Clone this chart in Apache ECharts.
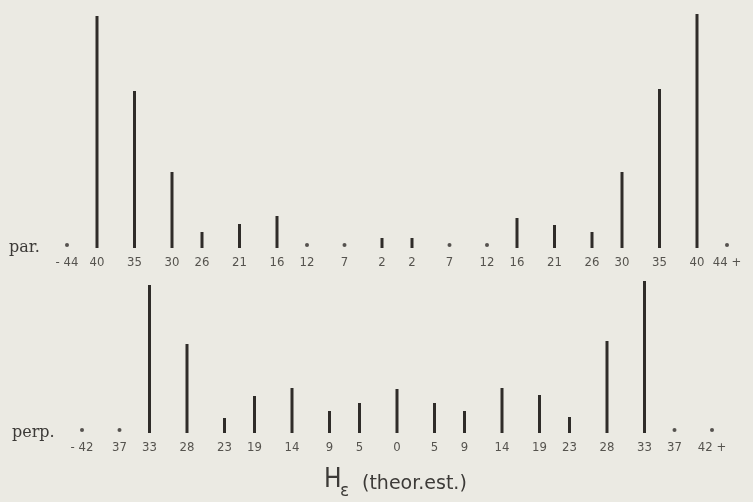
<!DOCTYPE html>
<html>
<head>
<meta charset="utf-8">
<script src="https://cdn.jsdelivr.net/npm/echarts@6/dist/echarts.min.js"></script>
<style>
html,body{margin:0;padding:0;background:#ebeae3;}
#chart{width:753px;height:502px;}
</style>
</head>
<body>
<div id="chart"></div>
<script>
// Angles (signed) and intensities
var parAngles = [-44,-40,-35,-30,-26,-21,-16,-12,-7,-2,2,7,12,16,21,26,30,35,40,44];
var parValues = [0,232,157,76,16,24,32,0,0,10,10,0,0,30,23,16,76,159,234,0];
var perpAngles = [-42,-37,-33,-28,-23,-19,-14,-9,-5,0,5,9,14,19,23,28,33,37,42];
var perpValues = [0,0,148,89,15,37,45,22,30,44,30,22,45,38,16,92,152,0,0];
var parTickLabels = ['- 44','40','35','30','26','21','16','12','7','2','2','7','12','16','21','26','30','35','40','44 +'];
var perpTickLabels = ['- 42','37','33','28','23','19','14','9','5','0','5','9','14','19','23','28','33','37','42 +'];

var barColor = '#2f2c29';
var labelColor = '#55534e';
var textColor = '#3c3a37';

function bars(angles, values) {
  var out = [];
  for (var i = 0; i < angles.length; i++) if (values[i] > 0) out.push([angles[i], values[i]]);
  return out;
}
function dots(angles, values) {
  var out = [];
  for (var i = 0; i < angles.length; i++) if (values[i] === 0) out.push([angles[i], 3]);
  return out;
}
function xAxis(gridIndex, angles, labels) {
  return {
    type: 'value', gridIndex: gridIndex, min: -46, max: 46,
    axisLine: {show: false}, axisTick: {show: false}, splitLine: {show: false},
    axisLabel: {
      customValues: angles, margin: 8, color: labelColor, fontSize: 13,
      fontFamily: 'DejaVu Sans Condensed, DejaVu Sans, sans-serif',
      formatter: function (v) { var i = angles.indexOf(v); return i >= 0 ? labels[i] : ''; }
    }
  };
}
function yAxis(gridIndex, max) {
  return {type: 'value', gridIndex: gridIndex, min: 0, max: max, show: false};
}

var chart = echarts.init(document.getElementById('chart'));
chart.setOption({
  backgroundColor: '#ebeae3',
  animation: false,
  grid: [
    {left: 52, width: 690, top: 8, height: 240},
    {left: 52, width: 690, top: 273, height: 160}
  ],
  xAxis: [xAxis(0, parAngles, parTickLabels), xAxis(1, perpAngles, perpTickLabels)],
  yAxis: [yAxis(0, 240), yAxis(1, 160)],
  series: [
    {type: 'bar', xAxisIndex: 0, yAxisIndex: 0, barWidth: 3, data: bars(parAngles, parValues), itemStyle: {color: barColor}},
    {type: 'scatter', xAxisIndex: 0, yAxisIndex: 0, symbolSize: 4, data: dots(parAngles, parValues), itemStyle: {color: barColor}},
    {type: 'bar', xAxisIndex: 1, yAxisIndex: 1, barWidth: 3, data: bars(perpAngles, perpValues), itemStyle: {color: barColor}},
    {type: 'scatter', xAxisIndex: 1, yAxisIndex: 1, symbolSize: 4, data: dots(perpAngles, perpValues), itemStyle: {color: barColor}}
  ],
  graphic: [
    {type: 'text', left: 9, top: 240, style: {text: 'par.', fontSize: 16, fontFamily: 'DejaVu Serif, serif', fill: textColor}},
    {type: 'text', left: 12, top: 425, style: {text: 'perp.', fontSize: 16, fontFamily: 'DejaVu Serif, serif', fill: textColor}},
    {type: 'text', x: 324, y: 480, style: {text: 'H', fontSize: 26, fontFamily: 'DejaVu Sans Condensed, DejaVu Sans, sans-serif', fill: textColor, verticalAlign: 'middle'}},
    {type: 'text', x: 340, y: 492, style: {text: 'ε', fontSize: 17, fontFamily: 'DejaVu Sans, sans-serif', fill: textColor, verticalAlign: 'middle'}},
    {type: 'text', x: 362, y: 484, style: {text: '(theor.est.)', fontSize: 19, fontFamily: 'DejaVu Sans, sans-serif', fill: textColor, verticalAlign: 'middle'}}
  ]
});
</script>
</body>
</html>
